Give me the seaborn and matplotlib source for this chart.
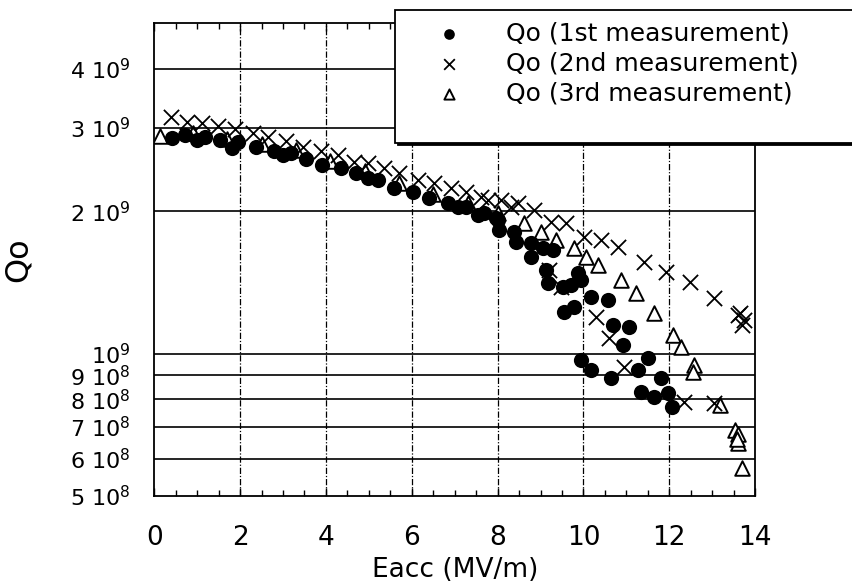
import numpy as np
import pandas as pd
import matplotlib
matplotlib.use("Agg")
import matplotlib.pyplot as plt
import matplotlib.ticker as mticker
from matplotlib.lines import Line2D
import seaborn as sns

e1 = [0.42, 0.72, 1.00, 1.19, 1.54, 1.82, 1.96, 2.36, 2.78, 3.01, 3.18, 3.53, 3.92, 4.34,
      4.69, 4.97, 5.21, 5.58, 6.02, 6.40, 6.84, 7.07, 7.26, 7.54, 7.68, 7.96, 8.01, 8.03,
      8.38, 8.43, 8.78, 9.06, 9.29, 8.78, 9.13, 9.18, 9.53, 9.71, 9.88, 9.95, 10.18, 10.58,
      9.55, 9.78, 10.69, 11.07, 10.93, 9.95, 10.18, 10.65, 11.28, 11.51, 11.81, 11.35,
      11.65, 11.98, 12.05]
q1 = [2.857e9, 2.898e9, 2.829e9, 2.871e9, 2.829e9, 2.721e9, 2.802e9, 2.734e9, 2.68e9,
      2.63e9, 2.656e9, 2.58e9, 2.505e9, 2.469e9, 2.41e9, 2.352e9, 2.329e9, 2.24e9, 2.196e9,
      2.133e9, 2.082e9, 2.042e9, 2.042e9, 1.964e9, 1.983e9, 1.935e9, 1.917e9, 1.826e9,
      1.808e9, 1.723e9, 1.714e9, 1.672e9, 1.656e9, 1.601e9, 1.503e9, 1.412e9, 1.384e9,
      1.397e9, 1.481e9, 1.431e9, 1.318e9, 1.299e9, 1.225e9, 1.255e9, 1.150e9, 1.139e9,
      1.043e9, 0.970e9, 0.923e9, 0.888e9, 0.923e9, 0.979e9, 0.888e9, 0.830e9, 0.810e9,
      0.826e9, 0.771e9]

e2 = [0.40, 0.77, 1.12, 1.49, 1.89, 2.29, 2.66, 3.06, 3.46, 3.88, 4.27, 4.65, 4.97, 5.35,
      5.70, 6.14, 6.51, 6.91, 7.26, 7.61, 7.77, 8.08, 8.31, 8.48, 8.85, 9.25, 9.60, 10.02,
      10.41, 10.81, 11.40, 11.93, 12.47, 13.05, 13.61, 13.75, 13.69, 13.65, 9.20, 9.48,
      10.30, 10.60, 10.95, 12.33, 13.03]
q2 = [3.165e9, 3.09e9, 3.075e9, 3.03e9, 2.99e9, 2.926e9, 2.871e9, 2.81e9, 2.734e9,
      2.682e9, 2.63e9, 2.542e9, 2.53e9, 2.469e9, 2.41e9, 2.329e9, 2.295e9, 2.24e9,
      2.196e9, 2.143e9, 2.112e9, 2.112e9, 2.042e9, 2.082e9, 2.013e9, 1.898e9, 1.889e9,
      1.765e9, 1.739e9, 1.68e9, 1.56e9, 1.488e9, 1.418e9, 1.312e9, 1.207e9, 1.178e9,
      1.15e9, 1.22e9, 1.503e9, 1.384e9, 1.196e9, 1.08e9, 0.938e9, 0.79e9, 0.786e9]

e3 = [0.14, 0.9, 1.7, 2.5, 3.3, 4.1, 4.9, 5.7, 6.5, 7.3, 8.0, 8.62, 9.01, 9.36, 9.78,
      10.06, 10.34, 10.88, 11.23, 11.65, 12.09, 12.28, 12.58, 12.56, 13.17, 13.52, 13.61,
      13.61, 13.58, 13.69]
q3 = [2.884e9, 2.93e9, 2.84e9, 2.77e9, 2.69e9, 2.55e9, 2.43e9, 2.29e9, 2.17e9, 2.08e9,
      1.98e9, 1.889e9, 1.81e9, 1.739e9, 1.672e9, 1.601e9, 1.54e9, 1.431e9, 1.344e9,
      1.219e9, 1.095e9, 1.034e9, 0.947e9, 0.914e9, 0.78e9, 0.69e9, 0.675e9, 0.648e9,
      0.66e9, 0.573e9]

labels = ["Qo (1st measurement)", "Qo (2nd measurement)", "Qo (3rd measurement)"]
y_ticks = [6e8, 7e8, 8e8, 9e8, 1e9, 2e9, 3e9, 4e9]
y_labels_at = [5e8] + y_ticks

sns.set_style("white")
plt.rcParams['font.family'] = ['DejaVu Sans']
for k in ['text.color', 'axes.labelcolor', 'xtick.color', 'ytick.color']:
    plt.rcParams[k] = 'black'

df1 = pd.DataFrame({'Eacc': e1, 'Qo': q1})
df2 = pd.DataFrame({'Eacc': e2, 'Qo': q2})
df3 = pd.DataFrame({'Eacc': e3, 'Qo': q3})

fig = plt.figure(figsize=(8.52, 5.86), dpi=100)
ax = fig.add_axes([0.181, 0.1536, 0.7054, 0.8072])

sns.scatterplot(data=df3, x='Eacc', y='Qo', ax=ax, marker='^', s=110, facecolor='white',
                edgecolor='black', linewidth=1.4, label=labels[2], zorder=3)
sns.scatterplot(data=df1, x='Eacc', y='Qo', ax=ax, marker='o', s=120, color='black',
                edgecolor='black', linewidth=0, label=labels[0], zorder=4)
sns.scatterplot(data=df2, x='Eacc', y='Qo', ax=ax, marker='x', s=120, color='black',
                linewidth=1.3, label=labels[1], zorder=5)

ax.set_yscale('log')
ax.set_xlim(0, 14)
ax.set_ylim(5e8, 5e9)


def fmt(v, pos=None):
    e = int(np.floor(np.log10(v) + 1e-9))
    m = int(round(v / 10 ** e))
    if m == 1:
        return r'$10^{%d}$' % e
    return r'%d $10^{%d}$' % (m, e)


ax.yaxis.set_major_locator(mticker.FixedLocator(y_labels_at))
ax.yaxis.set_major_formatter(mticker.FuncFormatter(fmt))
ax.yaxis.set_minor_locator(mticker.NullLocator())
ax.tick_params(axis='y', length=0, pad=17, labelsize=16)

ax.xaxis.set_major_locator(mticker.MultipleLocator(2))
ax.xaxis.set_minor_locator(mticker.MultipleLocator(0.5))
ax.tick_params(axis='x', which='both', direction='in', top=True, bottom=True,
               labelsize=19, pad=21, color='black')
ax.tick_params(axis='x', which='major', length=6, width=1)
ax.tick_params(axis='x', which='minor', length=4, width=1)

for yv in y_ticks:
    ax.axhline(yv, color='black', lw=1.2, zorder=1)
for xv in range(2, 14, 2):
    ax.axvline(xv, color='black', lw=0.9, ls=(0, (5, 1.5, 1, 1.5)), zorder=1)

for sp in ax.spines.values():
    sp.set_color('black')
    sp.set_linewidth(1.3)

ax.set_xlabel('Eacc (MV/m)', fontsize=19, labelpad=4)
ax.set_ylabel('Qo', fontsize=23)
ax.yaxis.set_label_coords(-0.20, 0.5)

handles, labs = ax.get_legend_handles_labels()
order = [labs.index(l) for l in labels]
hs = [handles[i] for i in order] + [Line2D([], [], linestyle='none')]
ls = [labs[i] for i in order] + [' ']
leg = ax.legend(hs, ls,
                loc='upper left', bbox_to_anchor=(0.4636, 0.983 - 0.22, 0.6, 0.22),
                bbox_transform=fig.transFigure, mode='expand', borderaxespad=0,
                fontsize=18, markerscale=0.7, handlelength=3.4, handletextpad=0.6,
                borderpad=0.45, labelspacing=0.25, fancybox=False, framealpha=1,
                edgecolor='black', shadow={'color': 'black', 'alpha': 1})
leg.get_texts()[3].set_fontsize(6)
leg.get_frame().set_linewidth(1.3)
leg.set_zorder(10)

fig.savefig('out.png', dpi=100)
